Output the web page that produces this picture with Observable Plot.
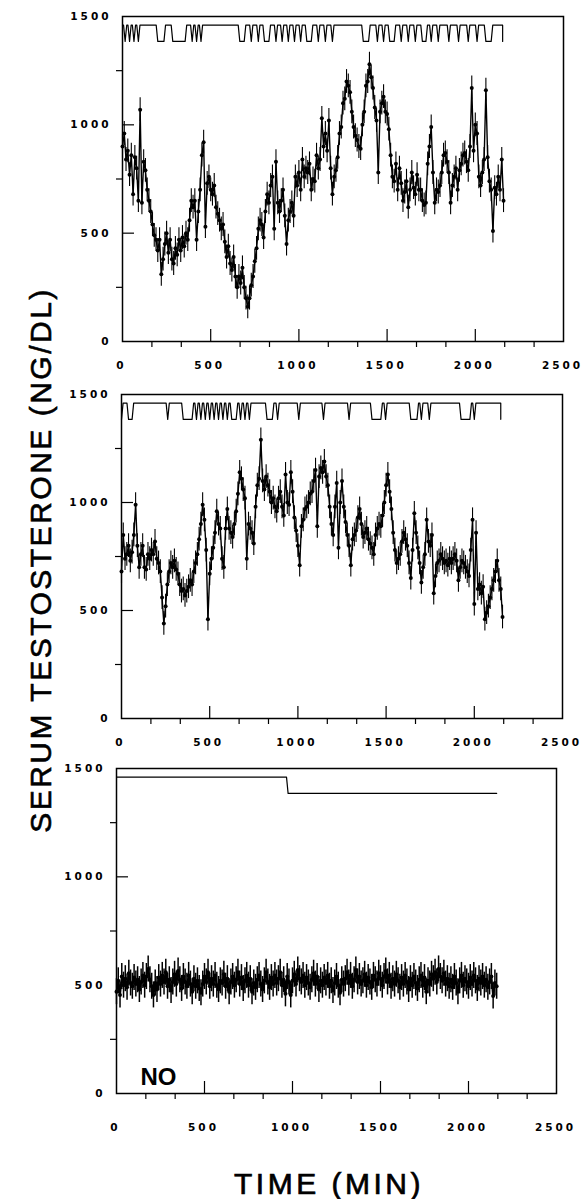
<!DOCTYPE html>
<html>
<head>
<meta charset="utf-8">
<script src="https://cdn.jsdelivr.net/npm/d3@7"></script>
<script src="https://cdn.jsdelivr.net/npm/@observablehq/plot@0.6"></script>
<style>
  body { margin: 0; background: #fff; }
  #root { position: relative; width: 584px; height: 1199px; overflow: hidden; background: #fff; }
  .panel { position: absolute; left: 0; }
  g[aria-label="x-axis tick label"], g[aria-label="y-axis tick label"] { letter-spacing: 3px; font-weight: bold; font-size: 10.5px; }
  .ytitle { position: absolute; left: 41px; top: 560px; transform: translate(-50%, -50%) rotate(-90deg);
            white-space: nowrap; font: 30px/30px "Liberation Sans", Arial, sans-serif; letter-spacing: 2.5px; color: #000;
            -webkit-text-stroke: 0.6px #000; }
  .xtitle { position: absolute; left: 329px; top: 1184px; transform: translate(-50%, -50%);
            white-space: nowrap; font: 30px/30px "Liberation Sans", Arial, sans-serif; letter-spacing: 3.5px; color: #000;
            -webkit-text-stroke: 0.7px #000; }
</style>
</head>
<body>
<div id="root"></div>
<script>
// ---------- data ----------
const STEP = 10; // sampling interval (min)

// Panel 1 serum testosterone (ng/dl), every 10 min from 0 to 2160
const p1Values = [
  900, 960, 840, 880, 770, 860, 680, 850, 800, 650,
  1070, 640, 830, 790, 700, 650, 600, 540, 490, 470,
  420, 470, 310, 380, 450, 500, 410, 470, 380, 360,
  430, 400, 470, 420, 480, 440, 500, 470, 560, 650,
  620, 650, 470, 600, 700, 860, 920, 530, 730, 760,
  700, 680, 720, 620, 590, 560, 520, 540, 460, 390,
  440, 360, 330, 390, 300, 250, 300, 270, 340, 250,
  200, 160, 200, 260, 300, 370, 430, 520, 560, 540,
  480, 600, 680, 640, 720, 760, 520, 830, 640, 600,
  650, 700, 580, 450, 560, 600, 640, 580, 760, 720,
  780, 700, 840, 760, 800, 780, 820, 700, 750, 740,
  860, 800, 840, 1030, 900, 960, 880, 1020, 800, 680,
  760, 790, 850, 960, 990, 1100, 1120, 1200, 1180, 1150,
  1060, 990, 950, 930, 900, 890, 1000, 1060, 1180, 1200,
  1280, 1220, 1170, 1080, 1020, 780, 1060, 1100, 1130, 1060,
  1050, 980, 860, 760, 740, 820, 700, 800, 730, 650,
  690, 740, 620, 700, 780, 710, 680, 770, 700, 700,
  650, 630, 640, 820, 900, 990, 780, 640, 700, 690,
  720, 780, 860, 870, 830, 780, 640, 720, 760, 800,
  700, 790, 820, 860, 870, 830, 790, 900, 1170, 880,
  1000, 960, 760, 720, 780, 840, 1160, 850, 740, 700,
  510, 710, 680, 760, 700, 840, 650
];

// Panel 2
const p2Values = [
  680, 850, 740, 760, 800, 730, 770, 850, 990, 800,
  700, 760, 800, 700, 690, 760, 740, 780, 760, 820,
  740, 720, 680, 560, 440, 520, 620, 680, 720, 700,
  730, 690, 670, 620, 590, 600, 570, 590, 610, 640,
  620, 680, 720, 760, 830, 900, 990, 920, 780, 460,
  670, 740, 790, 860, 960, 900, 880, 740, 700, 880,
  970, 880, 860, 840, 900, 960, 1040, 1140, 1110, 1060,
  1020, 740, 900, 880, 860, 810, 980, 1080, 1110, 1290,
  1100, 1060, 1120, 1080, 1050, 1000, 1020, 980, 960, 1020,
  1050, 980, 940, 1130, 1000, 990, 1140, 1050, 930, 870,
  800, 710, 890, 920, 970, 980, 1000, 1040, 1050, 1100,
  1150, 890, 1120, 1160, 1140, 1190, 1120, 1080, 980, 900,
  850, 980, 1090, 790, 1000, 1100, 980, 910, 850, 800,
  710, 830, 850, 870, 930, 970, 900, 840, 860, 880,
  830, 810, 790, 760, 850, 880, 900, 890, 940, 1000,
  1080, 1130, 1050, 970, 860, 780, 720, 740, 760, 820,
  860, 830, 800, 720, 650, 780, 950, 860, 790, 720,
  630, 700, 760, 920, 820, 800, 850, 580, 660, 720,
  730, 760, 740, 720, 730, 710, 740, 720, 740, 760,
  730, 640, 700, 730, 720, 700, 680, 660, 780, 920,
  530, 860, 600, 620, 580, 610, 460, 490, 520, 560,
  600, 640, 680, 730, 640, 600, 470
];

// Panel 3 ("NO")
const p3Values = [
  470, 520, 455, 540, 500, 530, 490, 555, 510, 495,
  535, 505, 525, 480, 515, 545, 500, 540, 575, 525,
  495, 455, 510, 480, 535, 505, 545, 515, 560, 495,
  525, 475, 515, 550, 505, 565, 525, 485, 540, 515,
  495, 545, 505, 470, 530, 495, 520, 485, 465, 505,
  540, 515, 560, 495, 530, 505, 545, 500, 480, 520,
  510, 550, 495, 530, 470, 515, 540, 500, 525, 560,
  505, 535, 485, 520, 545, 500, 530, 470, 510, 490,
  525, 545, 505, 480, 520, 560, 515, 490, 535, 505,
  545, 510, 530, 560, 500, 525, 460, 540, 515, 455,
  520, 550, 505, 570, 530, 515, 545, 500, 535, 510,
  490, 525, 555, 505, 540, 480, 520, 500, 535, 510,
  545, 495, 520, 475, 510, 540, 500, 465, 525, 505,
  530, 560, 510, 545, 495, 525, 570, 515, 540, 505,
  520, 550, 500, 535, 515, 490, 545, 525, 505, 555,
  530, 500, 540, 565, 515, 545, 495, 530, 505, 550,
  520, 490, 535, 505, 545, 515, 480, 530, 500, 540,
  510, 485, 525, 545, 500, 535, 470, 520, 505, 550,
  530, 560, 515, 575, 540, 520, 555, 505, 530, 495,
  525, 490, 540, 510, 470, 520, 545, 500, 530, 515,
  495, 535, 505, 545, 520, 485, 530, 510, 540, 500,
  525, 490, 515, 540, 450, 510, 495
];

const errSE = [55, 55, 60]; // error bar half-length per panel

// Pulse-detection trace: levels and low intervals [start, end] (min)
const pulseHigh = 1460, pulseLow = 1385;
const p1Dips = [[15,15],[40,40],[65,65],[90,90],[200,235],[285,355],[395,395],[420,420],[445,445],
  [665,690],[730,730],[770,770],[805,830],[870,870],[905,905],[940,940],[975,975],[1010,1010],
  [1045,1070],[1110,1110],[1150,1150],[1190,1190],[1365,1395],[1445,1445],[1480,1480],[1515,1540],
  [1580,1580],[1620,1620],[1660,1660],[1700,1720],[1750,1750],[1790,1790],[1850,1850],[1905,1905],
  [1960,1960],[2010,2010],[2060,2090]];
const p2Dips = [[40,60],[262,262],[350,400],[425,425],[450,450],[475,475],[500,500],[525,525],
  [550,550],[575,575],[600,600],[625,650],[675,675],[700,700],[725,725],[825,855],[885,885],
  [1005,1005],[1145,1145],[1290,1290],[1420,1470],[1497,1497],[1640,1675],[1700,1700],[1745,1745],
  [1925,1975],[2000,2000]];
const p3Dips = [[975,2160]];
const pulseEnds = [2155, 2150, 2160];
const pulseStartLow = [false, true, false];
const pulseEndDrop = [true, true, false];

// Axis ticks
const xLabelTicks = [0, 500, 1000, 1500, 2000, 2500];
const xMajorTicks = [500, 1000, 1500, 2000];
const xMinorTicks = [166.7, 333.3, 666.7, 833.3, 1166.7, 1333.3, 1666.7, 1833.3, 2166.7, 2333.3];
const yLabelTicks = [0, 500, 1000, 1500];
const yMajorTicks = [500, 1000];
const yMinorTicks = [250, 750, 1250];
const panelNotes = ["", "", "NO"];

// ---------- drawing ----------
function pulsePath(dips, end, startLow, endDrop) {
  const R = 9;
  const pts = [];
  if (startLow) { pts.push({t: 0, v: pulseLow}); pts.push({t: R, v: pulseHigh}); }
  else pts.push({t: 0, v: pulseHigh});
  let finishedLow = false;
  for (const [a, b] of dips) {
    pts.push({t: a - R, v: pulseHigh}, {t: a, v: pulseLow});
    if (b >= end) { pts.push({t: end, v: pulseLow}); finishedLow = true; break; }
    if (b > a) pts.push({t: b, v: pulseLow});
    pts.push({t: b + R, v: pulseHigh});
  }
  if (!finishedLow) {
    pts.push({t: end, v: pulseHigh});
    if (endDrop) pts.push({t: end, v: pulseLow});
  }
  return pts;
}

function panel(values, se, pulse, note, cfg) {
  const data = values.map((v, i) => ({t: i * STEP, v}));
  const plotW = 584 - cfg.ml - cfg.mr;
  const plotH = cfg.height - cfg.mt - cfg.mb;
  const xPerPx = 2500 / plotW, yPerPx = 1500 / plotH;
  const fmt = d => String(d);
  const marks = [
    Plot.ruleX(data, {x: "t", y1: d => d.v - se, y2: d => d.v + se, stroke: "black", strokeWidth: cfg.barW}),
    Plot.line(data, {x: "t", y: "v", stroke: "black", strokeWidth: cfg.lineW}),
    Plot.dot(data, {x: "t", y: "v", r: 2, fill: "black", stroke: "none"}),
    Plot.line(pulse, {x: "t", y: "v", stroke: "black", strokeWidth: 1.2}),
    Plot.frame({stroke: "black", strokeWidth: 1.5}),
    Plot.ruleX(xMajorTicks, {y1: 0, y2: 12 * yPerPx, stroke: "black", strokeWidth: 1.2}),
    Plot.ruleY(yMajorTicks, {x1: 0, x2: 12 * xPerPx, stroke: "black", strokeWidth: 1.2}),
    Plot.axisX({ticks: xMinorTicks, tickSize: 6, tickFormat: () => "", label: null, strokeWidth: 1.2}),
    Plot.axisY({ticks: yMinorTicks, tickSize: 6, tickFormat: () => "", label: null, strokeWidth: 1.2}),
    Plot.axisX({ticks: xLabelTicks, tickSize: 0, tickPadding: cfg.xPad, tickFormat: fmt, label: null, dx: -1, fill: "black"}),
    Plot.axisY({ticks: yLabelTicks, tickSize: 0, tickPadding: 11, tickFormat: fmt, label: null, fill: "black"})
  ];
  if (note) {
    marks.push(Plot.text([note], {text: d => d, frameAnchor: "bottom-left", textAnchor: "start",
      lineAnchor: "middle", dx: 24, dy: -16, fontSize: 24, fontWeight: "bold", fontFamily: "Liberation Sans", fill: "black"}));
  }
  return Plot.plot({
    width: 584, height: cfg.height,
    marginTop: cfg.mt, marginBottom: cfg.mb, marginLeft: cfg.ml, marginRight: cfg.mr,
    x: {domain: [0, 2500], label: null},
    y: {domain: [0, 1500], label: null},
    style: {fontFamily: "DejaVu Sans", fontSize: "10.5px", color: "black", background: "transparent", overflow: "visible"},
    marks
  });
}

const cfgs = [
  {top: 0,   height: 381, mt: 16, mb: 40, ml: 122, mr: 21, xPad: 20, barW: 1.1, lineW: 1.4},
  {top: 381, height: 377, mt: 13, mb: 40, ml: 121, mr: 22, xPad: 20, barW: 1.1, lineW: 1.4},
  {top: 758, height: 380, mt: 10, mb: 45, ml: 116, mr: 28, xPad: 30, barW: 1.5, lineW: 2}
];
const allValues = [p1Values, p2Values, p3Values];
const allDips = [p1Dips, p2Dips, p3Dips];

const root = document.getElementById("root");
cfgs.forEach((cfg, k) => {
  const pulse = pulsePath(allDips[k], pulseEnds[k], pulseStartLow[k], pulseEndDrop[k]);
  const svg = panel(allValues[k], errSE[k], pulse, panelNotes[k], cfg);
  const div = document.createElement("div");
  div.className = "panel";
  div.style.top = cfg.top + "px";
  div.appendChild(svg);
  root.appendChild(div);
});

const yt = document.createElement("div");
yt.className = "ytitle";
yt.textContent = "SERUM TESTOSTERONE (NG/DL)";
root.appendChild(yt);
const xt = document.createElement("div");
xt.className = "xtitle";
xt.textContent = "TIME (MIN)";
root.appendChild(xt);
</script>
</body>
</html>
